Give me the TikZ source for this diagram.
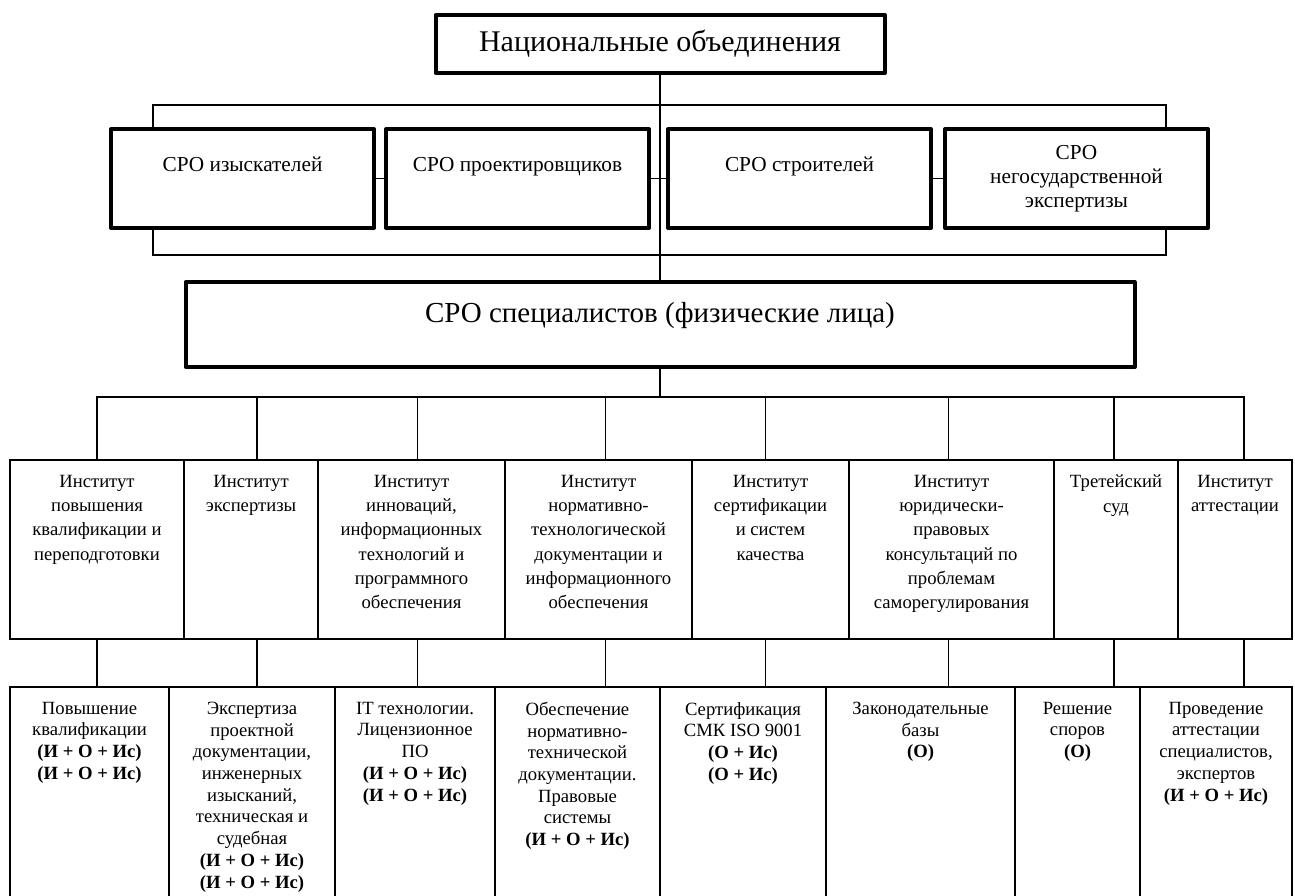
\documentclass[tikz,border=0pt]{standalone}
\usepackage{fontspec}
\setmainfont{Liberation Serif}
\usetikzlibrary{positioning}

\tikzset{
  big/.style={draw, line width=4pt, line join=round, outer sep=0pt, inner sep=0pt},
  sro/.style={big, minimum width=263pt, minimum height=99pt, align=center,
    font=\fontsize{21.3pt}{24pt}\selectfont},
  toptxt/.style={anchor=north, align=center, yshift=-11.5pt,
    font=\fontsize{18.67pt}{24.3pt}\selectfont},
  toptxtb/.style={toptxt, font=\fontsize{18.67pt}{21.7pt}\selectfont},
  inst/.style={draw, line width=1.8pt, outer sep=0pt, inner sep=0pt,
    minimum height=179pt, label={[toptxt]north:#1}},
  serv/.style={draw, line width=1.8pt, outer sep=0pt, inner sep=0pt,
    minimum height=215pt, label={[toptxtb]north:#1}},
  link/.style={line width=1.8pt},
}

\begin{document}
\begin{tikzpicture}[x=1pt,y=-1pt]
\useasboundingbox (0,0) rectangle (1295,895);
\fill[white] (0,0) rectangle (1295,895);
\clip (0,0) rectangle (1295,895);

% national level
\node[big, minimum width=449pt, minimum height=58pt,
  font=\fontsize{30pt}{34pt}\selectfont] (nat) at (660,44) {Национальные объединения};

% SRO of firms
\node[sro, text depth=28pt, anchor=north west] (s1) at (111,129) {СРО изыскателей};
\node[sro, text depth=28pt, right=12pt of s1] (s2) {СРО проектировщиков};
\node[sro, text depth=28pt, right=19pt of s2] (s3) {СРО строителей};
\node[sro, right=14pt of s3] (s4) {СРО\\негосударственной\\экспертизы};

\node[big, minimum width=949pt, minimum height=85pt, text depth=25pt,
  font=\fontsize{29pt}{34pt}\selectfont] (spec) at (660,324.5) {СРО специалистов (физические лица)};

% institutes
\node[inst={Институт\\повышения\\квалификации и\\переподготовки}, minimum width=174pt,
  anchor=north west] (i1) at (10,460) {};
\node[inst={Институт\\экспертизы}, minimum width=134pt, right=0pt of i1] (i2) {};
\node[inst={Институт\\инноваций,\\информационных\\технологий и\\программного\\обеспечения},
  minimum width=187pt, right=0pt of i2] (i3) {};
\node[inst={Институт\\нормативно-\\технологической\\документации и\\информационного\\обеспечения},
  minimum width=187pt, right=0pt of i3] (i4) {};
\node[inst={Институт\\сертификации\\и систем\\качества}, minimum width=157pt, right=0pt of i4] (i5) {};
\node[inst={Институт\\юридически-\\правовых\\консультаций по\\проблемам\\саморегулирования},
  minimum width=205pt, right=0pt of i5] (i6) {};
\node[inst={Третейский\\суд}, minimum width=124pt, right=0pt of i6] (i7) {};
\node[inst={Институт\\аттестации}, minimum width=114pt, right=0pt of i7] (i8) {};

% services
\node[serv={Повышение\\квалификации\\\textbf{(И + О + Ис)}\\\textbf{(И + О + Ис)}},
  minimum width=159pt, anchor=north west] (e1) at (10,687) {};
\node[serv={Экспертиза\\проектной\\документации,\\инженерных\\изысканий,\\техническая и\\судебная\\\textbf{(И + О + Ис)}\\\textbf{(И + О + Ис)}},
  minimum width=166pt, right=0pt of e1] (e2) {};
\node[serv={IT технологии.\\Лицензионное\\ПО\\\textbf{(И + О + Ис)}\\\textbf{(И + О + Ис)}},
  minimum width=160pt, right=0pt of e2] (e3) {};
\node[serv={Обеспечение\\нормативно-\\технической\\документации.\\Правовые\\системы\\\textbf{(И + О + Ис)}},
  minimum width=165pt, right=0pt of e3] (e4) {};
\node[serv={Сертификация\\СМК ISO 9001\\\textbf{(О + Ис)}\\\textbf{(О + Ис)}},
  minimum width=166pt, right=0pt of e4] (e5) {};
\node[serv={Законодательные\\базы\\\textbf{(О)}}, minimum width=189pt, right=0pt of e5] (e6) {};
\node[serv={Решение\\споров\\\textbf{(О)}}, minimum width=125pt, right=0pt of e6] (e7) {};
\node[serv={Проведение\\аттестации\\специалистов,\\экспертов\\\textbf{(И + О + Ис)}},
  minimum width=152pt, right=0pt of e7] (e8) {};

% connectors
\coordinate (brT) at (660,105);
\coordinate (brB) at (660,255);
\coordinate (bus) at (660,397);
\draw[link] (nat) -- (spec);
\draw[link] ([xshift=42pt]s1.north west) |- (brT) -| ([xshift=-42pt]s4.north east);
\draw[link] ([xshift=42pt]s1.south west) |- (brB) -| ([xshift=-42pt]s4.south east);
\draw[link] (s1) -- (s2) (s2) -- (s3) (s3) -- (s4);
\draw[link] (spec) -- (bus);
\draw[link] (i1.north) |- (bus) -| ([xshift=9pt]i8.north);
\draw[link] ([xshift=6pt]i2.north) -- ([xshift=6pt]i2.north |- bus)
  ([xshift=6pt]i3.north) -- ([xshift=6pt]i3.north |- bus)
  ([xshift=7pt]i4.north) -- ([xshift=7pt]i4.north |- bus)
  ([xshift=-5pt]i5.north) -- ([xshift=-5pt]i5.north |- bus)
  ([xshift=-3pt]i6.north) -- ([xshift=-3pt]i6.north |- bus)
  ([xshift=-2pt]i7.north) -- ([xshift=-2pt]i7.north |- bus);
\draw[link] (i1.south) -- (i1.south |- e1.north)
  ([xshift=6pt]i2.south) -- ([xshift=6pt]i2.south |- e1.north)
  ([xshift=6pt]i3.south) -- ([xshift=6pt]i3.south |- e1.north)
  ([xshift=7pt]i4.south) -- ([xshift=7pt]i4.south |- e1.north)
  ([xshift=-5pt]i5.south) -- ([xshift=-5pt]i5.south |- e1.north)
  ([xshift=-3pt]i6.south) -- ([xshift=-3pt]i6.south |- e1.north)
  ([xshift=-2pt]i7.south) -- ([xshift=-2pt]i7.south |- e1.north)
  ([xshift=9pt]i8.south) -- ([xshift=9pt]i8.south |- e1.north);
\end{tikzpicture}
\end{document}
